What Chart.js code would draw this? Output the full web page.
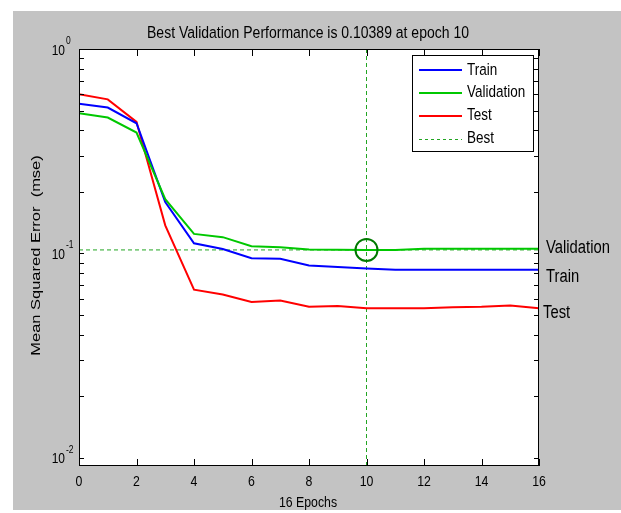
<!DOCTYPE html>
<html>
<head>
<meta charset="utf-8">
<script src="https://cdn.jsdelivr.net/npm/chart.js@4/dist/chart.umd.min.js"></script>
<style>
  html, body { margin: 0; padding: 0; background: #ffffff; }
  canvas { display: block; }
</style>
</head>
<body>
<canvas id="c" width="621" height="513"></canvas>
<script>
// ---- data ----
const epochs = [0, 1, 2, 3, 4, 5, 6, 7, 8, 9, 10, 11, 12, 13, 14, 15, 16];
const train = [0.540, 0.517, 0.433, 0.178, 0.112, 0.105, 0.0947, 0.094, 0.0872, 0.0858, 0.0843, 0.0832, 0.0832, 0.0832, 0.0832, 0.0832, 0.0832];
const validation = [0.485, 0.462, 0.390, 0.184, 0.1245, 0.120, 0.1084, 0.107, 0.1045, 0.1042, 0.10389, 0.1039, 0.1052, 0.1052, 0.1052, 0.1052, 0.1052];
const test = [0.600, 0.567, 0.440, 0.137, 0.0664, 0.0628, 0.0578, 0.0588, 0.0547, 0.0553, 0.0538, 0.0538, 0.0538, 0.0545, 0.0548, 0.0556, 0.0538];
const bestEpoch = 10;
const bestPerf = 0.10389;
const xTicks = [0, 2, 4, 6, 8, 10, 12, 14, 16];
const yDecades = [0.01, 0.1, 1];
const yDecadeExp = ['-2', '-1', '0'];
const seriesNames = ['Train', 'Validation', 'Test', 'Best'];
const titleText = 'Best Validation Performance is 0.10389 at epoch 10';
const xTitle = '16 Epochs';
const yTitle = 'Mean Squared Error  (mse)';
const yMin = 0.0091, yMax = 1;

const BLUE = '#0000ff', GREEN = '#00c800', RED = '#ff0000', BESTC = '#22a522', CIRC = '#007a00';
const GRAY = '#c3c3c3';
const FONT = '"Liberation Sans", Arial, sans-serif';
const SY = 1.22;

const pts = (ys) => epochs.map((e, i) => ({ x: e, y: ys[i] }));

function txt(ctx, s, x, y, size, align, baseline, rot) {
  ctx.save();
  ctx.translate(x, y);
  if (rot) { ctx.rotate(rot); ctx.scale(SY, 1); } else { ctx.scale(1, SY); }
  ctx.font = size + 'px ' + FONT;
  ctx.fillStyle = '#000';
  ctx.textAlign = align;
  ctx.textBaseline = baseline || 'alphabetic';
  ctx.fillText(s, 0, 0);
  ctx.restore();
}

const decor = {
  id: 'decor',
  beforeDraw(chart) {
    const ctx = chart.ctx, a = chart.chartArea;
    ctx.save();
    ctx.fillStyle = '#ffffff';
    ctx.fillRect(0, 0, chart.width, chart.height);
    ctx.fillStyle = GRAY;
    ctx.fillRect(13, 11, chart.width - 13, 499);
    ctx.fillStyle = '#ffffff';
    ctx.fillRect(a.left, a.top, a.right - a.left, a.bottom - a.top);
    ctx.restore();
  },
  afterDatasetsDraw(chart) {
    const ctx = chart.ctx, a = chart.chartArea;
    const xs = chart.scales.x, ys = chart.scales.y;
    ctx.save();
    // axes box
    ctx.strokeStyle = '#000';
    ctx.lineWidth = 1;
    ctx.strokeRect(a.left + 0.5, a.top + 0.5, a.right - a.left - 1, a.bottom - a.top - 1);
    // y ticks (major + minor), both sides, inward
    ctx.beginPath();
    for (let k = 0; k < yDecades.length; k++) {
      const d = yDecades[k];
      const maxM = (d === 1) ? 1 : 9;
      for (let m = 1; m <= maxM; m++) {
        const v = m * d;
        if (v < yMin || v > yMax) continue;
        const py = Math.round(ys.getPixelForValue(v)) + 0.5;
        ctx.moveTo(a.left, py); ctx.lineTo(a.left + 5, py);
        ctx.moveTo(a.right, py); ctx.lineTo(a.right - 5, py);
      }
    }
    // x ticks, top and bottom, inward
    xTicks.forEach(t => {
      const px = Math.round(xs.getPixelForValue(t)) + 0.5;
      ctx.moveTo(px, a.bottom); ctx.lineTo(px, a.bottom - 7);
      ctx.moveTo(px, a.top); ctx.lineTo(px, a.top + 7);
    });
    ctx.stroke();
    // x tick labels
    xTicks.forEach(t => {
      txt(ctx, String(t), xs.getPixelForValue(t), a.bottom + 20, 12.3, 'center');
    });
    // y tick labels 10^n
    yDecades.forEach((d, i) => {
      const py = ys.getPixelForValue(d);
      txt(ctx, '10', 65, py + 5.6, 12, 'right');
      txt(ctx, yDecadeExp[i], 66, py - 5, 8.5, 'left');
    });
    // titles
    txt(ctx, titleText, 308, 37.5, 14, 'center');
    txt(ctx, xTitle, 308, 506.5, 12.3, 'center');
    txt(ctx, yTitle, 39.5, (a.top + a.bottom) / 2 - 2, 13.5, 'center', 'alphabetic', -Math.PI / 2);
    // end labels
    const last = epochs.length - 1;
    txt(ctx, 'Validation', a.right + 7, ys.getPixelForValue(validation[last]) - 0.5, 14.8, 'left', 'middle');
    txt(ctx, 'Train', a.right + 7, ys.getPixelForValue(train[last]) + 7.5, 14.8, 'left', 'middle');
    txt(ctx, 'Test', a.right + 4, ys.getPixelForValue(test[last]) + 4.5, 14.8, 'left', 'middle');
    // legend
    const lx = 412, ly = 55, lw = 121, lh = 96;
    ctx.fillStyle = '#ffffff';
    ctx.fillRect(lx, ly, lw, lh);
    ctx.strokeStyle = '#000';
    ctx.lineWidth = 1;
    ctx.strokeRect(lx + 0.5, ly + 0.5, lw, lh);
    const cols = [BLUE, GREEN, RED, BESTC];
    seriesNames.forEach((name, i) => {
      const y = 70 + i * 22.9;
      ctx.beginPath();
      ctx.strokeStyle = cols[i];
      ctx.lineWidth = i < 3 ? 2 : 1;
      ctx.setLineDash(i < 3 ? [] : [3, 3]);
      ctx.moveTo(419, Math.round(y) + (i < 3 ? 0 : 0.5));
      ctx.lineTo(462, Math.round(y) + (i < 3 ? 0 : 0.5));
      ctx.stroke();
      ctx.setLineDash([]);
      txt(ctx, name, 467, y, 13.5, 'left', 'middle');
    });
    ctx.restore();
  }
};

new Chart(document.getElementById('c'), {
  type: 'line',
  data: {
    datasets: [
      { label: 'BestCircle', data: [{ x: bestEpoch, y: bestPerf }], showLine: false,
        pointRadius: 11, pointHoverRadius: 11, pointBorderColor: CIRC, pointBorderWidth: 2,
        pointBackgroundColor: 'rgba(0,0,0,0)', order: 0 },
      { label: 'Train', data: pts(train), borderColor: BLUE, borderWidth: 2, pointRadius: 0, tension: 0, order: 2 },
      { label: 'Validation', data: pts(validation), borderColor: GREEN, borderWidth: 2, pointRadius: 0, tension: 0, order: 1 },
      { label: 'Test', data: pts(test), borderColor: RED, borderWidth: 2, pointRadius: 0, tension: 0, order: 3 },
      { label: 'Best', data: [{ x: bestEpoch, y: yMin }, { x: bestEpoch, y: yMax }], borderColor: BESTC,
        borderWidth: 1, borderDash: [4, 3], pointRadius: 0, order: 4 },
      { label: 'BestH', data: [{ x: epochs[0], y: bestPerf }, { x: epochs[epochs.length - 1], y: bestPerf }],
        borderColor: BESTC, borderWidth: 1, borderDash: [4, 3], pointRadius: 0, order: 5 }
    ]
  },
  options: {
    responsive: false,
    animation: false,
    devicePixelRatio: 1,
    layout: { padding: { left: 79, top: 49, right: 82, bottom: 47 } },
    plugins: { legend: { display: false }, title: { display: false }, tooltip: { enabled: false } },
    scales: {
      x: { type: 'linear', min: 0, max: 16, display: false },
      y: { type: 'logarithmic', min: yMin, max: yMax, display: false }
    }
  },
  plugins: [decor]
});
</script>
</body>
</html>
